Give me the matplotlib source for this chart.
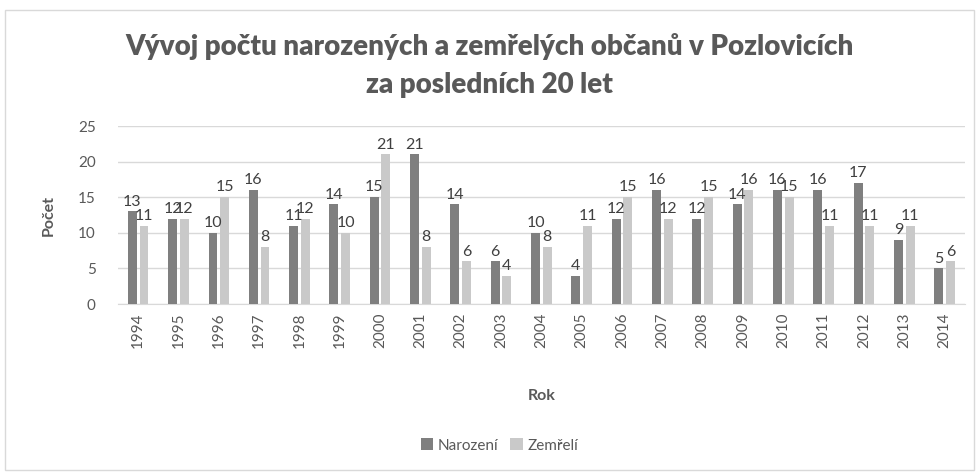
import matplotlib
matplotlib.use("Agg")
import matplotlib.pyplot as plt
import numpy as np
from matplotlib.patches import Rectangle

years = ["1994", "1995", "1996", "1997", "1998", "1999", "2000", "2001", "2002", "2003", "2004",
         "2005", "2006", "2007", "2008", "2009", "2010", "2011", "2012", "2013", "2014"]
narozeni = [13, 12, 10, 16, 11, 14, 15, 21, 14, 6, 10, 4, 12, 16, 12, 14, 16, 16, 17, 9, 5]
zemreli = [11, 12, 15, 8, 12, 10, 21, 8, 6, 4, 8, 11, 15, 12, 15, 16, 15, 11, 11, 11, 6]

plt.rcParams['font.family'] = ['Lato', 'DejaVu Sans']
text_col = '#595959'

fig = plt.figure(figsize=(9.79, 4.75), dpi=100)
ax = fig.add_axes([0.1205, 0.36, 0.865, 0.3747])

x = np.arange(len(years))
w = 0.22
b1 = ax.bar(x - 0.145, narozeni, w, color='#7f7f7f', label='Narození', zorder=3)
b2 = ax.bar(x + 0.145, zemreli, w, color='#c9c9c9', label='Zemřelí', zorder=3)

for bars in (b1, b2):
    for r in bars:
        ax.annotate(str(int(r.get_height())), (r.get_x() + r.get_width() / 2, r.get_height()),
                    xytext=(0, 2), textcoords='offset points', ha='center', va='bottom',
                    fontsize=11.5, color='#404040')

ax.set_xlim(-0.5, len(years) - 0.5)
ax.set_ylim(0, 25)
ax.set_yticks(range(0, 26, 5))
ax.set_xticks(x)
ax.set_xticklabels(years, rotation=90)
ax.tick_params(axis='both', length=0, labelsize=11, colors=text_col)
ax.tick_params(axis='y', pad=16)
ax.tick_params(axis='x', pad=6)
ax.grid(axis='y', color='#d9d9d9', linewidth=1, zorder=0)
for s in ['top', 'right', 'left']:
    ax.spines[s].set_visible(False)
ax.spines['bottom'].set_color('#d9d9d9')

ax.set_xlabel('Rok', fontsize=11.5, fontweight='bold', color=text_col, labelpad=30)
ax.set_ylabel('Počet', fontsize=11.5, fontweight='bold', color=text_col, labelpad=16)

fig.suptitle('Vývoj počtu narozených a zemřelých občanů v Pozlovicích\nza posledních 20 let',
             y=0.93, fontsize=20, fontweight='heavy', color=text_col, linespacing=1.55)

fig.legend(loc='center', bbox_to_anchor=(0.51, 0.062), ncol=2, frameon=False,
           fontsize=11, handlelength=0.8, handleheight=0.8, handletextpad=0.3,
           columnspacing=0.8, labelcolor=text_col)

fig.patches.append(Rectangle((0.005, 0.01), 0.99, 0.97, transform=fig.transFigure,
                             fill=False, edgecolor='#d9d9d9', linewidth=1))

fig.savefig('out.png', dpi=100)
